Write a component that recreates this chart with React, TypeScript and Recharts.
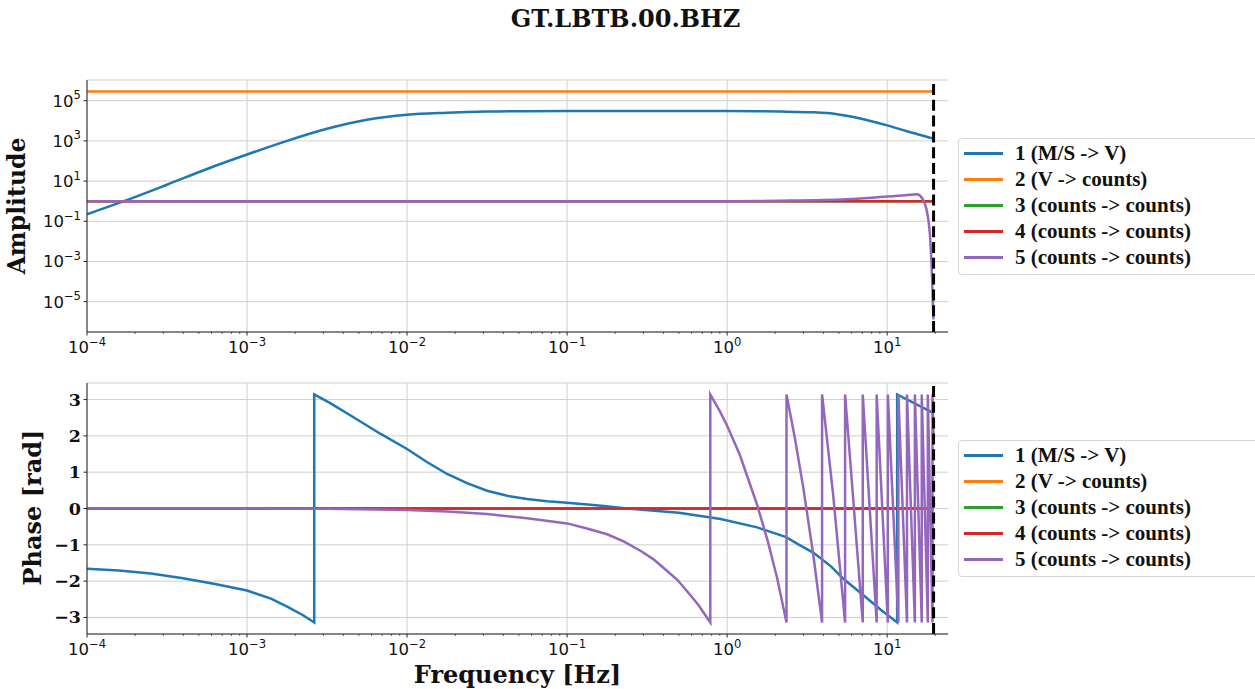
import React from "react";
import {
  LineChart,
  Line,
  XAxis,
  YAxis,
  CartesianGrid,
  Legend,
  ReferenceLine,
} from "recharts";

// stage names and colours (matplotlib tab10)
const STAGE_NAMES = [
  "1 (M/S -> V)",
  "2 (V -> counts)",
  "3 (counts -> counts)",
  "4 (counts -> counts)",
  "5 (counts -> counts)",
];
const STAGE_COLORS = ["#1f77b4", "#ff7f0e", "#2ca02c", "#d62728", "#9467bd"];

const NYQUIST = 19.5;
const X_DOMAIN = [0.0001, 24];
const X_MAJOR = [0.0001, 0.001, 0.01, 0.1, 1, 10];
const X_MAJOR_EXP = ["−4", "−3", "−2", "−1", "0", "1"];
const X_MINOR_MULT = [2, 3, 4, 5, 6, 7, 8, 9];

const AMP_DOMAIN = [3.1e-7, 1.07e6];
const AMP_TICKS = [1e-5, 1e-3, 1e-1, 10, 1e3, 1e5];
const AMP_TICK_EXP = ["−5", "−3", "−1", "1", "3", "5"];

const PHASE_DOMAIN = [-3.456, 3.456];
const PHASE_TICKS = [-3, -2, -1, 0, 1, 2, 3];
const PHASE_TICK_LABELS = ["−3", "−2", "−1", "0", "1", "2", "3"];

// amplitude, stage 1 (sensor)
const AMP1_FREQ = [
  0.0001, 0.00017, 0.000316, 0.000562, 0.001, 0.00178, 0.00316, 0.00562, 0.01,
  0.0178, 0.0316, 0.0562, 0.1, 1.0, 1.5, 2.15, 3.48, 4.87, 6.17, 7.87, 10, 13.3, 19.1, 19.5,
];
const AMP1 = [
  0.224, 1.0, 6.6, 40, 209, 1000, 3980, 11200, 20000, 25100, 28800, 30200, 30900,
  30500, 29900, 28800, 26300, 21400, 15500, 9800, 5900, 3000, 1350, 1290,
];
// stages 2-4 are flat
const AMP_FLAT_FREQ = [0.0001, 19.5];
const AMP2 = [290000, 290000];
const AMP3 = [1, 1];
const AMP4 = [1, 1];
// stage 5 (FIR)
const AMP5_FREQ = [0.0001, 1.0, 2.15, 5.6, 9.1, 13.0, 15.4, 16.55, 17.8, 18.6, 19.1, 19.45];
const AMP5 = [1.0, 1.0, 1.05, 1.25, 1.6, 1.95, 2.24, 1.4, 0.26, 0.012, 0.00013, 0.0000013];

// phase, stage 1
const PH1_FREQ = [
  0.0001, 0.000158, 0.000251, 0.000398, 0.000631, 0.001, 0.00141, 0.00178, 0.00224,
  0.00263, 0.00263, 0.00331, 0.00468, 0.0068, 0.01, 0.0133, 0.0178, 0.0237, 0.0316,
  0.0422, 0.0562, 0.075, 0.1, 0.158, 0.237, 0.5, 0.91, 1.54, 2.34, 2.82, 3.47, 4.47,
  5.37, 7.08, 9.08, 11.55, 11.55, 19.1, 19.5,
];
const PH1 = [
  -1.66, -1.71, -1.79, -1.92, -2.08, -2.26, -2.48, -2.7, -2.94, -3.14, 3.14, 2.9,
  2.5, 2.06, 1.64, 1.28, 0.95, 0.7, 0.49, 0.35, 0.26, 0.2, 0.157, 0.08, 0.0, -0.12,
  -0.29, -0.52, -0.79, -1.0, -1.22, -1.6, -1.95, -2.38, -2.78, -3.14, 3.14, 2.65, 2.62,
];
const PH_FLAT_FREQ = [0.0001, 19.5];
const PH2 = [0, 0];
const PH3 = [0, 0];
const PH4 = [0, 0];
// stage 5 wraps around +-pi
const PH5_FREQ = [
  0.0001, 0.001, 0.00316, 0.01, 0.0178, 0.0316, 0.0562, 0.1, 0.133, 0.178, 0.224,
  0.289, 0.347, 0.422, 0.49, 0.562, 0.66, 0.785, 0.785, 0.9, 1.0, 1.2, 1.54, 1.8,
  2.05, 2.35, 2.35, 2.65, 3.0, 3.45, 3.92, 3.92, 4.6, 5.46, 5.46, 7.04, 7.04, 8.6, 8.6,
  10.1, 10.1, 11.75, 11.75, 13.3, 13.3, 14.9, 14.9, 16.45, 16.45, 17.95, 17.95, 19.2,
  19.2, 19.5,
];
const PH5 = [
  0, 0, -0.005, -0.04, -0.08, -0.15, -0.27, -0.41, -0.55, -0.71, -0.9, -1.17, -1.4,
  -1.72, -1.97, -2.28, -2.65, -3.14, 3.14, 2.68, 2.28, 1.48, 0.1, -0.92, -1.9, -3.14,
  3.14, 1.94, 0.54, -1.26, -3.14, 3.14, 0.37, -3.14, 3.14, -3.14, 3.14, -3.14, 3.14,
  -3.14, 3.14, -3.14, 3.14, -3.14, 3.14, -3.14, 3.14, -3.14, 3.14, -3.14, 3.14, -3.14,
  3.14, 1.9,
];

const toPoints = (freq: number[], vals: number[]) =>
  freq.map((f, i) => ({ f, v: vals[i] }));

const AMP_SERIES = [
  toPoints(AMP1_FREQ, AMP1),
  toPoints(AMP_FLAT_FREQ, AMP2),
  toPoints(AMP_FLAT_FREQ, AMP3),
  toPoints(AMP_FLAT_FREQ, AMP4),
  toPoints(AMP5_FREQ, AMP5),
];
const PHASE_SERIES = [
  toPoints(PH1_FREQ, PH1),
  toPoints(PH_FLAT_FREQ, PH2),
  toPoints(PH_FLAT_FREQ, PH3),
  toPoints(PH_FLAT_FREQ, PH4),
  toPoints(PH5_FREQ, PH5),
];

const X_TICKS = [
  ...X_MAJOR,
  ...X_MAJOR.flatMap((d) => X_MINOR_MULT.map((m) => d * m)).filter((t) => t < X_DOMAIN[1]),
];

const AXIS_COLOR = "#262626";
const GRID_COLOR = "#cfcfcf";
const SANS = "'DejaVu Sans', sans-serif";
const SERIF = "'DejaVu Serif', serif";

function XTick(props: any) {
  const { x, y, payload } = props;
  const idx = X_MAJOR.findIndex((m) => Math.abs(m - payload.value) / m < 1e-6);
  const major = idx >= 0;
  return (
    <g>
      <line x1={x} x2={x} y1={y} y2={y + (major ? 3.5 : 2)} stroke={AXIS_COLOR} strokeWidth={major ? 1 : 0.7} />
      {major && (
        <text x={x} y={y + 21.3} textAnchor="middle" fontFamily={SANS} fontSize={16.5} fill="#111">
          10
          <tspan dy={-7.5} fontSize={11.6}>
            {X_MAJOR_EXP[idx]}
          </tspan>
        </text>
      )}
    </g>
  );
}

function AmpTick(props: any) {
  const { x, y, payload } = props;
  const idx = AMP_TICKS.findIndex((m) => Math.abs(m - payload.value) / m < 1e-6);
  return (
    <g>
      <line x1={x - 3.5} x2={x} y1={y} y2={y} stroke={AXIS_COLOR} strokeWidth={1} />
      <text x={x - 6} y={y + 6} textAnchor="end" fontFamily={SANS} fontSize={16.5} fill="#111">
        10
        <tspan dy={-7.4} fontSize={11.6}>
          {AMP_TICK_EXP[idx]}
        </tspan>
      </text>
    </g>
  );
}

function PhaseTick(props: any) {
  const { x, y, payload } = props;
  const idx = PHASE_TICKS.indexOf(payload.value);
  return (
    <g>
      <line x1={x - 3.5} x2={x} y1={y} y2={y} stroke={AXIS_COLOR} strokeWidth={1} />
      <text x={x - 6} y={y + 6} textAnchor="end" fontFamily={SERIF} fontWeight="bold" fontSize={17.5} fill="#111">
        {PHASE_TICK_LABELS[idx]}
      </text>
    </g>
  );
}

function LegendBox(props: any) {
  const items = props.payload || [];
  return (
    <div
      style={{
        width: 320,
        border: "1px solid #d6d6d6",
        borderRadius: 4,
        background: "rgba(255,255,255,0.85)",
        padding: "1px 0 4px 0",
        boxSizing: "border-box",
        height: 137,
      }}
    >
      {items.map((it: any) => (
        <div key={it.value} style={{ height: 26, display: "flex", alignItems: "center" }}>
          <span style={{ display: "inline-block", width: 39, height: 3, background: it.color, marginLeft: 4.5, marginRight: 12.5 }} />
          <span style={{ fontFamily: "'Liberation Serif', serif", fontWeight: "bold", fontSize: 21, color: "#111", whiteSpace: "nowrap" }}>
            {it.value}
          </span>
        </div>
      ))}
    </div>
  );
}

function Panel(props: {
  height: number;
  top: number;
  bottom: number;
  legendTop: number;
  series: { f: number; v: number }[][];
  curve: "monotone" | "linear";
  yDomain: number[];
  yTicks: number[];
  yLog: boolean;
  yTick: (p: any) => React.ReactElement;
}) {
  const { height, top, bottom, legendTop, series, curve, yDomain, yTicks, yLog, yTick } = props;
  return (
    <LineChart width={1255} height={height} margin={{ top, right: 307, bottom, left: 0 }}>
      <CartesianGrid stroke={GRID_COLOR} strokeWidth={1} verticalValues={X_MAJOR} />
      <XAxis
        dataKey="f"
        type="number"
        scale="log"
        domain={X_DOMAIN}
        allowDataOverflow
        ticks={X_TICKS}
        interval={0}
        tick={<XTick />}
        tickLine={false}
        tickSize={0}
        tickMargin={0}
        height={28}
        stroke={AXIS_COLOR}
      />
      <XAxis
        xAxisId="top"
        orientation="top"
        type="number"
        scale="log"
        domain={X_DOMAIN}
        allowDataOverflow
        tick={false}
        tickLine={false}
        height={0}
        stroke={AXIS_COLOR}
      />
      <YAxis
        type="number"
        scale={yLog ? "log" : "linear"}
        domain={yDomain}
        allowDataOverflow
        ticks={yTicks}
        interval={0}
        tick={yTick}
        tickLine={false}
        tickSize={0}
        tickMargin={0}
        width={87}
        stroke={AXIS_COLOR}
      />
      <YAxis
        yAxisId="right"
        orientation="right"
        type="number"
        domain={yDomain}
        allowDataOverflow
        tick={false}
        tickLine={false}
        width={0}
        stroke={AXIS_COLOR}
      />
      {series.map((pts, i) => (
        <Line
          key={STAGE_NAMES[i]}
          data={pts}
          dataKey="v"
          name={STAGE_NAMES[i]}
          type={curve}
          stroke={STAGE_COLORS[i]}
          strokeWidth={2.5}
          dot={false}
          activeDot={false}
          isAnimationActive={false}
        />
      ))}
      <ReferenceLine x={NYQUIST} stroke="#000" strokeWidth={3} strokeDasharray="11 4.8" />
      <Legend
        layout="vertical"
        align="center"
        verticalAlign="middle"
        wrapperStyle={{ left: 958, top: legendTop, width: 320, height: 137 }}
        content={<LegendBox />}
      />
    </LineChart>
  );
}

export default function App() {
  return (
    <div style={{ position: "absolute", left: 0, top: 0, width: 1255, height: 689, background: "#fff", overflow: "hidden" }}>
      <Panel
        height={360}
        top={80}
        bottom={0}
        legendTop={138}
        series={AMP_SERIES}
        curve="monotone"
        yDomain={AMP_DOMAIN}
        yTicks={AMP_TICKS}
        yLog
        yTick={(p: any) => <AmpTick {...p} />}
      />
      <Panel
        height={329}
        top={23}
        bottom={27}
        legendTop={80}
        series={PHASE_SERIES}
        curve="linear"
        yDomain={PHASE_DOMAIN}
        yTicks={PHASE_TICKS}
        yLog={false}
        yTick={(p: any) => <PhaseTick {...p} />}
      />
      <svg width={1255} height={689} style={{ position: "absolute", left: 0, top: 0, pointerEvents: "none" }}>
        <text x={625.5} y={27.3} textAnchor="middle" fontFamily={SERIF} fontWeight="bold" fontSize={24} fill="#111">
          GT.LBTB.00.BHZ
        </text>
        <text transform="translate(25,206) rotate(-90)" textAnchor="middle" fontFamily={SERIF} fontWeight="bold" fontSize={23.5} fill="#111">
          Amplitude
        </text>
        <text transform="translate(41,507.5) rotate(-90)" textAnchor="middle" fontFamily={SERIF} fontWeight="bold" fontSize={24} fill="#111">
          Phase [rad]
        </text>
        <text x={517.5} y={683} textAnchor="middle" fontFamily={SERIF} fontWeight="bold" fontSize={24} fill="#111">
          Frequency [Hz]
        </text>
      </svg>
    </div>
  );
}
